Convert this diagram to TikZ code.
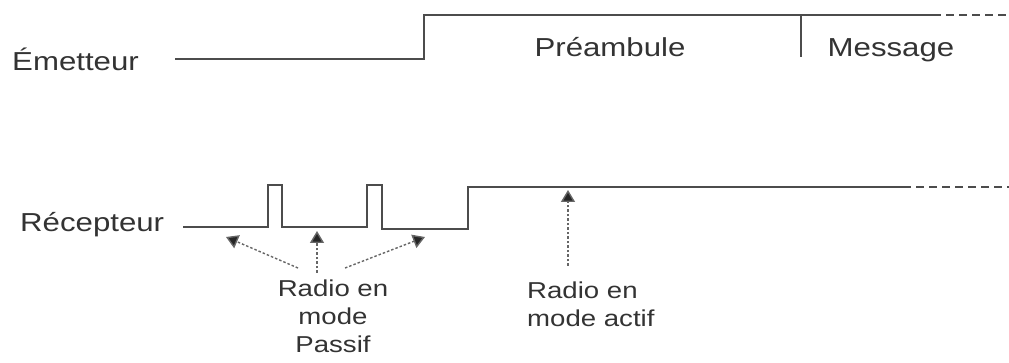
\documentclass[tikz,border=0pt]{standalone}
\usepackage{fontspec}
\setmainfont{Liberation Sans}[FakeStretch=1.2]
\usetikzlibrary{arrows.meta}
\begin{document}
\begin{tikzpicture}[x=1pt,y=-1pt,
  signal/.style={draw=black!70,line width=2.2pt,line join=miter},
  cont/.style={draw=black!70,line width=2.2pt,dash pattern=on 8pt off 5pt},
  lbl/.style={inner sep=0pt,text=black!80,font=\fontsize{26}{28}\selectfont},
  note/.style={inner sep=0pt,text=black!80,align=center,font=\fontsize{23}{27.5}\selectfont},
  pointer/.style={draw=black!60,line width=1.4pt,dash pattern=on 2.5pt off 2pt,
    -{Triangle[width=14pt,length=12pt,fill=black!85]}}]
\useasboundingbox (0,0) rectangle (1009,363);

% signal labels
\node[lbl,anchor=base west] (em) at (12,71) {Émetteur};
\node[lbl,anchor=base west] (rc) at (20,232) {Récepteur};
\node[lbl,anchor=base] (pre) at (610,57) {Préambule};
\node[lbl,anchor=base] (msg) at (891,57) {Message};

% transmitter waveform
\coordinate (e0) at (175,59);
\coordinate (e1) at (424,59);
\coordinate (e2) at (424,15);
\coordinate (e3) at (933,15);
\coordinate (e4) at (1009,15);
\coordinate (d0) at (801,15);
\coordinate (d1) at (801,57);
\draw[signal] (e0) -- (e1) -- (e2) -- (e3);
\draw[cont] (e3) -- (e4);
\draw[signal] (d0) -- (d1);

% receiver waveform with two listening pulses
\coordinate (r0) at (183,227);
\coordinate (p1a) at (268,227);
\coordinate (p1b) at (268,185);
\coordinate (p1c) at (282,185);
\coordinate (p1d) at (282,227);
\coordinate (p2a) at (367,227);
\coordinate (p2b) at (367,185);
\coordinate (p2c) at (382,185);
\coordinate (p2d) at (382,229);
\coordinate (s0) at (468,229);
\coordinate (s1) at (468,187);
\coordinate (r1) at (903,187);
\coordinate (r2) at (1009,187);
\draw[signal] (r0) -- (p1a) -- (p1b) -- (p1c) -- (p1d) -- (p2a) -- (p2b) -- (p2c) -- (p2d) -- (s0) -- (s1) -- (r1);
\draw[cont] (r1) -- (r2);

% annotations (base anchor sits on the last line)
\node[note,anchor=base] (pas) at (333,352) {Radio en\\mode\\Passif};
\node[note,anchor=base west,align=left] (act) at (527,326) {Radio en\\mode actif};

\coordinate (t1) at (226,237);
\coordinate (t2) at (317,231);
\coordinate (t3) at (425,237);
\coordinate (t4) at (568,190);
\draw[pointer] (298,268) -- (t1);
\draw[pointer] (317,273) -- (t2);
\draw[pointer] (345,268) -- (t3);
\draw[pointer] (568,266) -- (t4);
\end{tikzpicture}
\end{document}
